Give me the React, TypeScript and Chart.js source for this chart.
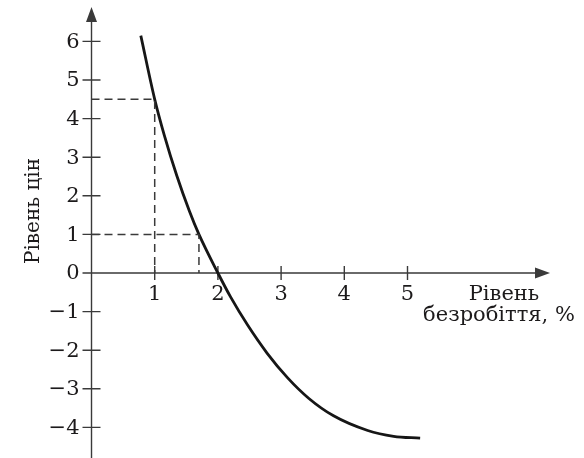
import { useEffect, useRef } from "react";
import { Chart, registerables } from "chart.js";

Chart.register(...registerables);

// Phillips-type curve: unemployment rate (%) vs price level
const curveX = [0.78, 1.0, 1.15, 1.35, 1.55, 1.7, 2.0, 2.2, 2.47, 2.78, 3.1, 3.44, 3.83, 4.37, 4.78, 5.2];
const curveY = [6.15, 4.5, 3.58, 2.52, 1.6, 1.0, 0, -0.62, -1.35, -2.08, -2.71, -3.25, -3.7, -4.08, -4.23, -4.28];

// reading guides: dashed drops from the curve to both axes
const guideX = [1, 1.7];
const guideY = [4.5, 1];

const xTicks = [1, 2, 3, 4, 5];
const yTicks = [-4, -3, -2, -1, 0, 1, 2, 3, 4, 5, 6];

const xTitle = ["Рівень", "безробіття, %"];
const yTitle = "Рівень цін";

// visible extent of the plot and of the drawn axes (data units)
const X_RANGE = { min: -0.815, max: 7.318 };
const Y_RANGE = { min: -3.886, max: 6.166 };
const X_AXIS_FROM = -0.1;
const X_AXIS_TO = 7.255;
const Y_AXIS_TO = 6.89;

const FONT = '"DejaVu Serif", serif';
const INK = "#1c1a1b";
const AXIS = "#3a3a3a";

const fmt = (v: number) => (v < 0 ? "\u2212" + Math.abs(v) : String(v));

const crossAxes = {
  id: "crossAxes",
  beforeDatasetsDraw(chart: any) {
    const { ctx } = chart;
    const xs = chart.scales.x;
    const ys = chart.scales.y;
    const ox = xs.getPixelForValue(0);
    const oy = ys.getPixelForValue(0);
    const xl = xs.getPixelForValue(X_AXIS_FROM);
    const xr = xs.getPixelForValue(X_AXIS_TO);
    const yt = ys.getPixelForValue(Y_AXIS_TO);
    const yb = chart.height;
    const head = 15;
    const half = 5.5;

    ctx.save();
    ctx.strokeStyle = AXIS;
    ctx.fillStyle = AXIS;
    ctx.lineWidth = 1.4;
    ctx.beginPath();
    ctx.moveTo(xl, oy);
    ctx.lineTo(xr - head + 2, oy);
    ctx.moveTo(ox, yb);
    ctx.lineTo(ox, yt + head - 2);
    for (const v of xTicks) {
      const p = xs.getPixelForValue(v);
      ctx.moveTo(p, oy - 7);
      ctx.lineTo(p, oy + 7);
    }
    for (const v of yTicks) {
      const p = ys.getPixelForValue(v);
      ctx.moveTo(ox - 9, p);
      ctx.lineTo(ox + 9, p);
    }
    ctx.stroke();

    ctx.beginPath();
    ctx.moveTo(xr, oy);
    ctx.lineTo(xr - head, oy - half);
    ctx.lineTo(xr - head, oy + half);
    ctx.closePath();
    ctx.moveTo(ox, yt);
    ctx.lineTo(ox - half, yt + head);
    ctx.lineTo(ox + half, yt + head);
    ctx.closePath();
    ctx.fill();

    // price-level tick labels, right-aligned left of the vertical axis
    ctx.fillStyle = INK;
    ctx.font = `21px ${FONT}`;
    ctx.textAlign = "right";
    ctx.textBaseline = "middle";
    for (const v of yTicks) {
      ctx.fillText(fmt(v), ox - 12, ys.getPixelForValue(v) + 1);
    }

    ctx.font = `21px ${FONT}`;
    ctx.textAlign = "center";
    ctx.textBaseline = "alphabetic";
    ctx.fillText(xTitle[0], 504, 300);
    ctx.fillText(xTitle[1], 499, 321);

    ctx.font = `20px ${FONT}`;
    ctx.translate(34, 211);
    ctx.rotate(-Math.PI / 2);
    ctx.textBaseline = "middle";
    ctx.fillText(yTitle, 0, 0);
    ctx.restore();
  },
};

export default function App() {
  const ref = useRef<HTMLCanvasElement | null>(null);

  useEffect(() => {
    if (!ref.current) return;
    const guides = guideX.map((gx, i) => ({
      data: [
        { x: 0, y: guideY[i] },
        { x: gx, y: guideY[i] },
        { x: gx, y: 0 },
      ],
      showLine: true,
      borderColor: "#3a3a3a",
      borderWidth: 1.5,
      borderDash: [8, 5],
      pointRadius: 0,
      tension: 0,
    }));
    const chart = new Chart(ref.current, {
      type: "scatter",
      data: {
        datasets: [
          ...guides,
          {
            data: curveX.map((x, i) => ({ x, y: curveY[i] })),
            showLine: true,
            borderColor: "#161616",
            borderWidth: 2.8,
            pointRadius: 0,
            cubicInterpolationMode: "monotone",
            clip: false,
          },
        ],
      } as any,
      options: {
        animation: false,
        responsive: true,
        maintainAspectRatio: false,
        events: [],
        layout: { padding: { left: 40, right: 30, top: 35, bottom: 35 } },
        plugins: { legend: { display: false }, tooltip: { enabled: false } },
        scales: {
          x: {
            type: "linear",
            position: { y: 0 },
            min: X_RANGE.min,
            max: X_RANGE.max,
            bounds: "data",
            grid: { display: false, drawTicks: false },
            border: { display: false },
            afterBuildTicks: (s: any) => {
              s.ticks = xTicks.map((value) => ({ value }));
            },
            ticks: {
              autoSkip: false,
              maxRotation: 0,
              padding: 9,
              color: INK,
              font: { family: FONT, size: 21 },
              callback: (v: any) => fmt(Number(v)),
            },
          },
          y: {
            type: "linear",
            position: { x: 0 },
            min: Y_RANGE.min,
            max: Y_RANGE.max,
            bounds: "data",
            grid: { display: false, drawTicks: false },
            border: { display: false },
            afterBuildTicks: (s: any) => {
              s.ticks = yTicks.map((value) => ({ value }));
            },
            ticks: { display: false },
          },
        } as any,
      },
      plugins: [crossAxes],
    });
    return () => chart.destroy();
  }, []);

  return (
    <div style={{ position: "fixed", left: 0, top: 0, width: 584, height: 458, background: "#fff" }}>
      <canvas ref={ref} />
    </div>
  );
}
